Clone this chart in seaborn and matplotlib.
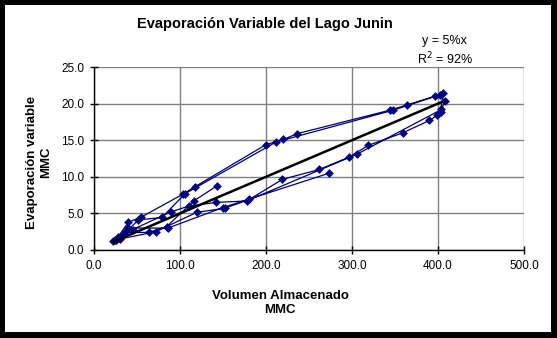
import matplotlib
matplotlib.use("Agg")
import matplotlib.pyplot as plt
import seaborn as sns
import pandas as pd
import numpy as np
from matplotlib.patches import Rectangle

# Data, in time order
volumen = [142.6, 116.0, 84.5, 64.0, 36.0, 25.0, 22.0, 28.0, 40.0, 55.0,
           103.0, 117.4, 200.0, 220.0, 236.4, 344.0, 363.6, 396.5, 406.0, 403.0,
           399.0, 390.0, 359.0, 319.0, 297.0, 262.0, 219.0, 180.6, 152.0, 119.4,
           72.0, 30.0, 24.0, 35.0, 51.5, 79.0, 106.0, 211.6, 348.0, 402.0,
           408.0, 404.0, 306.0, 177.5, 142.0, 110.0, 89.5, 45.0, 30.0, 27.0,
           40.0, 86.0, 150.0, 273.6]
evaporacion = [8.74, 6.7, 3.2, 2.4, 2.4, 1.4, 1.2, 1.8, 3.8, 4.5,
               7.6, 8.65, 14.4, 15.1, 15.9, 19.1, 19.8, 21.0, 21.4, 18.9,
               18.4, 17.7, 16.0, 14.3, 12.7, 11.0, 9.65, 6.9, 5.7, 5.15,
               2.5, 1.5, 1.3, 2.2, 4.1, 4.45, 7.7, 14.75, 19.1, 21.2,
               20.3, 19.2, 13.1, 6.7, 6.5, 6.0, 5.2, 2.8, 1.8, 1.5,
               3.0, 3.0, 5.8, 10.5]
pendiente = 0.05
r2_text = "92%"

xticks = [0, 100, 200, 300, 400, 500]
yticks = [0, 5, 10, 15, 20, 25]

df = pd.DataFrame({"Volumen": volumen, "Evaporacion": evaporacion})

sns.set_theme(style="white")
plt.rcParams['font.family'] = ['Liberation Sans', 'DejaVu Sans']

W, H = 557, 338
fig = plt.figure(figsize=(W / 100, H / 100), dpi=100, facecolor="black")
fig.patches.append(Rectangle((5 / W, 6 / H), (W - 11) / W, (H - 11) / H,
                             transform=fig.transFigure, facecolor="white",
                             edgecolor="none", zorder=-10))

ax = fig.add_axes([94 / W, 1 - 250 / H, (524 - 94) / W, (250 - 67) / H])
ax.set_facecolor("white")

navy = "#000080"
sns.lineplot(data=df, x="Volumen", y="Evaporacion", sort=False, estimator=None,
             color=navy, linewidth=0.9, ax=ax, zorder=3)
sns.scatterplot(data=df, x="Volumen", y="Evaporacion", marker="D", s=20,
                color=navy, edgecolor=navy, linewidth=0, ax=ax, zorder=4)

xt = np.array([min(volumen), max(volumen)])
sns.lineplot(x=xt, y=pendiente * xt, color="black", linewidth=1.8, ax=ax, zorder=5)

ax.set_xlim(0, 500)
ax.set_ylim(0, 25)
ax.set_xticks(xticks)
ax.set_yticks(yticks)
ax.set_xticklabels([f"{v:.1f}" for v in xticks], fontsize=8.5)
ax.set_yticklabels([f"{v:.1f}" for v in yticks], fontsize=8.5)
ax.grid(True, color="#808080", linewidth=1)
ax.set_axisbelow(True)
for s in ["top", "right"]:
    ax.spines[s].set_visible(False)
for s in ["left", "bottom"]:
    ax.spines[s].set_color("black")
    ax.spines[s].set_linewidth(1)
ax.tick_params(axis="both", direction="inout", length=6, width=1, color="black",
               labelcolor="black", pad=4, bottom=True, left=True)
ax.set_xlabel("")
ax.set_ylabel("")

fig.text(280 / W, 1 - 303 / H, "Volumen Almacenado\nMMC", ha="center", va="center",
         fontsize=9.5, fontweight="bold", color="black", linespacing=1.25)
fig.text(39 / W, 1 - 162 / H, "Evaporación variable\nMMC", ha="center", va="center",
         rotation=90, fontsize=9.5, fontweight="bold", color="black", linespacing=1.25)

fig.text(264.5 / W, 1 - 24 / H, "Evaporación Variable del Lago Junin", ha="center",
         va="center", fontsize=10.5, fontweight="bold", color="black")
ax.text(408, 28.55, "y = 5%x", ha="center", va="center", fontsize=9, color="black")
ax.text(408, 26.1, "R$^2$ = " + r2_text, ha="center", va="center", fontsize=9, color="black")

fig.savefig("out.png", dpi=100, facecolor="black")
